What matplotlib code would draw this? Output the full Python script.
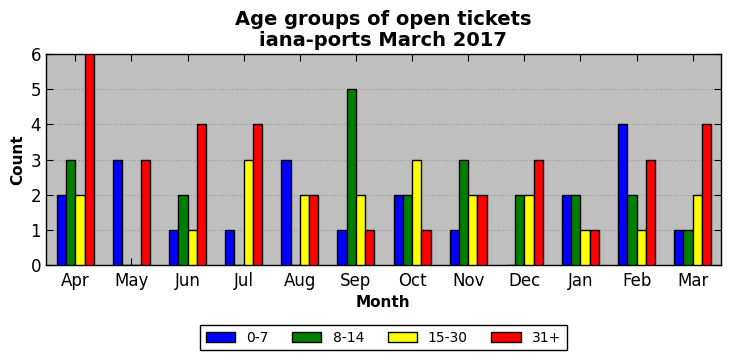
import matplotlib.pyplot as plt
import numpy as np

months = ['Apr', 'May', 'Jun', 'Jul', 'Aug', 'Sep', 'Oct', 'Nov', 'Dec', 'Jan', 'Feb', 'Mar']
age_0_7 = [2, 3, 1, 1, 3, 1, 2, 1, 0, 2, 4, 1]
age_8_14 = [3, 0, 2, 0, 0, 5, 2, 3, 2, 2, 2, 1]
age_15_30 = [2, 0, 1, 3, 2, 2, 3, 2, 2, 1, 1, 2]
age_31 = [6, 3, 4, 4, 2, 1, 1, 2, 3, 1, 3, 4]

series = [('0-7', age_0_7, 'blue'), ('8-14', age_8_14, 'green'),
          ('15-30', age_15_30, 'yellow'), ('31+', age_31, 'red')]

fig = plt.figure(figsize=(7.31, 3.61), dpi=100)
ax = fig.add_axes([0.063, 0.266, 0.923, 0.584])
ax.set_facecolor('#bfbfbf')

x = np.arange(len(months))
w = 0.165
for i, (label, vals, col) in enumerate(series):
    ax.bar(x + (i - 1.5) * w, vals, w, color=col, edgecolor='black', linewidth=1, label=label, zorder=3)

ax.set_xlim(-0.52, 11.5)
ax.set_ylim(0, 6)
ax.set_xticks(x)
ax.set_xticklabels(months, fontsize=12)
ax.tick_params(axis='y', labelsize=12)
ax.tick_params(direction='in', top=True, right=True, length=5)
ax.tick_params(axis='x', pad=5)
ax.yaxis.grid(True, linestyle=':', color='#999999', zorder=0)
ax.set_axisbelow(True)
for s in ax.spines.values():
    s.set_linewidth(1)

ax.set_title('Age groups of open tickets\niana-ports March 2017', fontsize=14, fontweight='bold', linespacing=1.1)
ax.set_xlabel('Month', fontsize=11, fontweight='bold', labelpad=4)
ax.set_ylabel('Count', fontsize=11, fontweight='bold')

fig.legend(loc='lower center', bbox_to_anchor=(0.5246, 0.03), ncol=4, fontsize=10,
           fancybox=False, edgecolor='black', framealpha=1, columnspacing=1.7,
           handlelength=2.1, handletextpad=0.8, borderpad=0.4, borderaxespad=0)

fig.savefig('out.png', dpi=100)
